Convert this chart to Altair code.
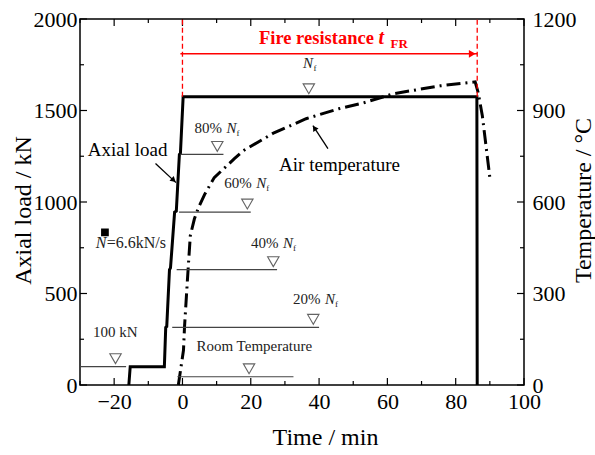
import altair as alt
import pandas as pd

FONT = "Liberation Serif"
W, H = 444, 366
XD = [-30, 100]
YD = [0, 2000]
TD = [0, 1200]

# ---- data ----
load_t = [-15.7, -15.3, -5.3, -4.9, -4.6, -3.8, -3.5, -2.3, -1.8, -0.9, -0.6, 0.2, 86.2, 86.3]
load_kn = [0, 100, 100, 315, 320, 630, 640, 945, 950, 1260, 1265, 1575, 1575, 0]

temp_t = [-1.2, 0.3, 0.6, 1.5, 2.3, 3.5, 4.7, 6.5, 9.3, 15.2, 17.8, 26.8, 36.2, 45.8, 53.0,
          61.8, 75.5, 85.7, 86.6, 87.8, 90.0]
temp_c = [0, 114, 190, 353, 490, 545, 582, 625, 680, 742, 768, 827, 873, 906, 925,
          955, 981, 994, 958, 883, 680]

level_y = [100, 45, 315, 630, 945, 1260]
level_x0 = [-30, -1.5, -3.0, -1.7, -1.0, -0.6]
level_x1 = [-16.5, 32.5, 40.0, 27.7, 20.0, 12.0]

tri_x = [-19.6, 19.5, 38.3, 26.6, 19.0, 10.2, 37.0]
tri_y = [100, 45, 315, 630, 945, 1260, 1575]

pct_text = ["80%", "60%", "40%", "20%"]
pct_x = [3.5, 12.2, 20.1, 32.4]
pct_y = [1379, 1079, 747, 441]

nf_x = [35.3]
nf_y = [1733]

small_text = ["Room Temperature", "100 kN"]
small_x = [4.1, -26.2]
small_y = [185, 262]

big_text = ["Axial load", "Air temperature"]
big_x = [-27.7, 28.3]
big_y = [1253, 1172]

rate_x = [-25.4]
rate_y = [747]
rate_sq_x = [-22.7]
rate_sq_y = [834]

fr_lines_t = [0, 86.3]
fr_y0, fr_y1 = 1575, 2000
fr_arrow = {"x0": -0.6, "x1": 86.3, "y": 1810}
fr_title_x, fr_title_y = 22.4, 1864
fr_t_x = 57.4
fr_sub_x, fr_sub_y = 60.9, 1842

arrow_tail = [(-7.9, 1210), (42.6, 1292)]
arrow_tip = [(-1.9, 1106), (38.2, 1417)]
arrow_angle = [132, 327]

x_major = [-20, 0, 20, 40, 60, 80, 100]
x_minor = [-30, -10, 10, 30, 50, 70, 90]
y_major = [0, 500, 1000, 1500, 2000]
y_minor = [250, 750, 1250, 1750]
t_major = [0, 300, 600, 900, 1200]
t_minor = [150, 450, 750, 1050]

# ---- helpers ----
def X(field="x", axis=None):
    return alt.X(f"{field}:Q", scale=alt.Scale(domain=XD, nice=False), axis=axis)

def Y(field="y", axis=None):
    return alt.Y(f"{field}:Q", scale=alt.Scale(domain=YD, nice=False), axis=axis)

def X2(field):
    return alt.X2(f"{field}:Q")

def Y2(field):
    return alt.Y2(f"{field}:Q")

def text_layer(df, size, style="normal", weight="normal", color="black", dx=0, dy=0):
    return alt.Chart(df).mark_text(
        font=FONT, fontSize=size, fontStyle=style, fontWeight=weight, color=color,
        align="left", baseline="alphabetic", dx=dx, dy=dy
    ).encode(x=X(), y=Y(), text="text:N")

x_axis = alt.Axis(values=x_major, ticks=False, domain=False, grid=False, orient="bottom",
                  format="d",
                  labelFont=FONT, labelFontSize=22, labelColor="black", labelPadding=6,
                  labelOverlap=False, labelFlush=False,
                  title="Time / min", titleFont=FONT, titleFontSize=24,
                  titleFontWeight="normal", titleColor="black",
                  titleX=245, titleY=52, titleBaseline="middle", titleAlign="center")
y_axis = alt.Axis(values=y_major, ticks=False, domain=False, grid=False, orient="left",
                  format="d",
                  labelFont=FONT, labelFontSize=22, labelColor="black", labelPadding=3,
                  labelOverlap=False, labelFlush=False,
                  title="Axial load / kN", titleFont=FONT, titleFontSize=24,
                  titleFontWeight="normal", titleColor="black", titleAngle=270,
                  titleX=-57, titleY=191, titleBaseline="middle", titleAlign="center")
t_axis = alt.Axis(values=t_major, ticks=False, domain=False, grid=False, orient="right",
                  format="d",
                  labelFont=FONT, labelFontSize=22, labelColor="black", labelPadding=8,
                  labelOverlap=False, labelFlush=False,
                  title="Temperature / °C", titleFont=FONT, titleFontSize=24,
                  titleFontWeight="normal", titleColor="black", titleAngle=270,
                  titleX=59, titleY=181, titleBaseline="middle", titleAlign="center")

# ---- load layers ----
load_df = pd.DataFrame({"x": load_t, "y": load_kn})
load_line = alt.Chart(load_df).mark_line(color="black", strokeWidth=3, strokeJoin="miter").encode(
    x=X(axis=x_axis), y=Y(axis=y_axis), order="idx:Q"
).transform_window(idx="row_number()")

lv_df = pd.DataFrame({"x": level_x0, "x2": level_x1, "y": level_y})
levels = alt.Chart(lv_df).mark_rule(color="#444", strokeWidth=1.2).encode(x=X(), x2=X2("x2"), y=Y())

tri_df = pd.DataFrame({"x": tri_x, "y": tri_y})
tris = alt.Chart(tri_df).mark_point(shape="triangle-down", filled=False, color="#222",
                                    strokeWidth=1.1, size=130, yOffset=-8).encode(x=X(), y=Y())

pct_df = pd.DataFrame({"x": pct_x, "y": pct_y, "text": pct_text})
pct_lbl = text_layer(pct_df, 15, color="#222")
pct_n = text_layer(pct_df.assign(text="N"), 15, style="italic", color="#222", dx=32)
pct_f = text_layer(pct_df.assign(text="f"), 9, color="#222", dx=42, dy=3)

nf_df = pd.DataFrame({"x": nf_x, "y": nf_y, "text": ["N"]})
nf_n = text_layer(nf_df, 15, style="italic", color="#222")
nf_f = text_layer(nf_df.assign(text="f"), 9, color="#222", dx=10.5, dy=3)

small_df = pd.DataFrame({"x": small_x, "y": small_y, "text": small_text})
small_lbl = text_layer(small_df, 15, color="#222")

big_df = pd.DataFrame({"x": big_x, "y": big_y, "text": big_text})
big_lbl = text_layer(big_df, 19)

rate_df = pd.DataFrame({"x": rate_x, "y": rate_y, "text": ["N"]})
rate_n = text_layer(rate_df, 16, style="italic", color="#222")
rate_rest = text_layer(rate_df.assign(text="=6.6kN/s"), 16, color="#222", dx=11)
sq_df = pd.DataFrame({"x": rate_sq_x, "y": rate_sq_y})
rate_sq = alt.Chart(sq_df).mark_point(shape="square", filled=True, color="black", size=60,
                                      opacity=1).encode(x=X(), y=Y())

# fire resistance annotation
fr_df = pd.DataFrame({"x": fr_lines_t, "y": [fr_y0] * 2, "y2": [fr_y1] * 2})
fr_lines = alt.Chart(fr_df).mark_rule(color="#ff0000", strokeWidth=1.3, strokeDash=[5, 3]).encode(
    x=X(), y=Y(), y2=Y2("y2"))
fa_df = pd.DataFrame({"x": [fr_arrow["x0"]], "x2": [fr_arrow["x1"]], "y": [fr_arrow["y"]]})
fr_arrow_line = alt.Chart(fa_df).mark_rule(color="#ff0000", strokeWidth=1.5).encode(
    x=X(), x2=X2("x2"), y=Y())
fh_df = pd.DataFrame({"x": [fr_arrow["x1"]], "y": [fr_arrow["y"]]})
fr_head = alt.Chart(fh_df).mark_point(shape="triangle-right", filled=True, color="#ff0000",
                                      size=60, opacity=1, xOffset=-5).encode(x=X(), y=Y())
frt_df = pd.DataFrame({"x": [fr_title_x], "y": [fr_title_y], "text": ["Fire resistance"]})
fr_txt = text_layer(frt_df, 18.5, weight="bold", color="#ff0000")
frt2_df = pd.DataFrame({"x": [fr_t_x], "y": [fr_title_y], "text": ["t"]})
fr_t = text_layer(frt2_df, 20, style="italic", weight="bold", color="#ff0000")
frs_df = pd.DataFrame({"x": [fr_sub_x], "y": [fr_sub_y], "text": ["FR"]})
fr_sub = text_layer(frs_df, 13, weight="bold", color="#ff0000")

# black arrows
ar_df = pd.DataFrame({
    "x": [a[0] for a in arrow_tail], "y": [a[1] for a in arrow_tail],
    "x2": [a[0] for a in arrow_tip], "y2": [a[1] for a in arrow_tip],
})
arrows = alt.Chart(ar_df).mark_rule(color="black", strokeWidth=1.3).encode(
    x=X(), y=Y(), x2=X2("x2"), y2=Y2("y2"))
head1 = alt.Chart(pd.DataFrame({"x": [arrow_tip[0][0]], "y": [arrow_tip[0][1]]})).mark_point(
    shape="triangle", filled=True, color="black", size=40, opacity=1,
    angle=arrow_angle[0], xOffset=-3, yOffset=-3).encode(x=X(), y=Y())
head2 = alt.Chart(pd.DataFrame({"x": [arrow_tip[1][0]], "y": [arrow_tip[1][1]]})).mark_point(
    shape="triangle", filled=True, color="black", size=40, opacity=1,
    angle=arrow_angle[1], xOffset=2, yOffset=3).encode(x=X(), y=Y())

# inward ticks
def xticks(vals, length):
    df = pd.DataFrame({"x": vals})
    bot = alt.Chart(df).mark_rule(color="black", strokeWidth=1.2).encode(
        x=X(), y=alt.value(H), y2=alt.value(H - length))
    top = alt.Chart(df).mark_rule(color="black", strokeWidth=1.2).encode(
        x=X(), y=alt.value(0), y2=alt.value(length))
    return [bot, top]

def yticks(vals, length):
    df = pd.DataFrame({"y": vals})
    return alt.Chart(df).mark_rule(color="black", strokeWidth=1.2).encode(
        y=Y(), x=alt.value(0), x2=alt.value(length))

def tticks(vals, length):
    df = pd.DataFrame({"y": vals})
    return alt.Chart(df).mark_rule(color="black", strokeWidth=1.2).encode(
        y=alt.Y("y:Q", scale=alt.Scale(domain=TD, nice=False), axis=None),
        x=alt.value(W), x2=alt.value(W - length))

temp_df = pd.DataFrame({"x": temp_t, "y": temp_c})
temp_line = alt.Chart(temp_df).mark_line(color="black", strokeWidth=3,
                                         strokeDash=[14, 5, 2, 5]).encode(
    x=X(),
    y=alt.Y("y:Q", scale=alt.Scale(domain=TD, nice=False), axis=t_axis),
    order="idx:Q",
).transform_window(idx="row_number()")

chart = alt.layer(
    load_line, temp_line,
    levels, tris, *xticks(x_major, 7), *xticks(x_minor, 4),
    yticks(y_major, 7), yticks(y_minor, 4), tticks(t_major, 7), tticks(t_minor, 4),
    pct_lbl, pct_n, pct_f, nf_n, nf_f, small_lbl, big_lbl, rate_n, rate_rest, rate_sq,
    fr_lines, fr_arrow_line, fr_head, fr_txt, fr_t, fr_sub,
    arrows, head1, head2,
).resolve_scale(y="independent").resolve_axis(x="independent", y="independent").properties(
    width=W, height=H,
    autosize=alt.AutoSizeParams(type="none"),
    padding={"left": 80, "top": 19, "right": 595 - 80 - W, "bottom": 455 - 19 - H},
).configure_view(stroke="black", strokeWidth=1.5)

chart.save("out.html", embed_options={"renderer": "svg", "actions": False})
